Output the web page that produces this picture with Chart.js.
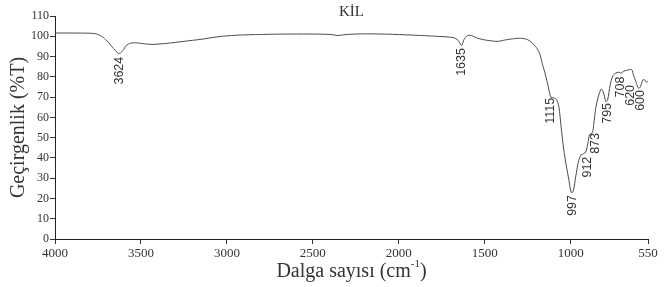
<!DOCTYPE html>
<html>
<head>
<meta charset="utf-8">
<script src="https://cdn.jsdelivr.net/npm/chart.js@4/dist/chart.umd.min.js"></script>
<style>
  html, body { margin: 0; padding: 0; background: #fff; }
  #wrap { width: 668px; height: 287px; }
</style>
</head>
<body>
<div id="wrap"><canvas id="ftirChart" width="668" height="287"></canvas></div>
<script>
// FTIR spektrumu - KİL
const wavenumbers = [4000, 3900, 3800, 3760, 3720, 3690, 3660, 3640, 3624, 3605, 3585, 3560, 3530, 3480, 3430,
  3350, 3250, 3150, 3050, 2950, 2800, 2650, 2500, 2400, 2353, 2300, 2200, 2050, 1900, 1760, 1680, 1655, 1635,
  1620, 1600, 1580, 1540, 1500, 1450, 1420, 1380, 1320, 1284, 1250, 1225, 1200, 1180, 1165, 1150, 1135, 1120,
  1115, 1095, 1080, 1068, 1055, 1040, 1025, 1010, 997, 985, 970, 955, 940, 925, 912, 900, 890, 873, 865, 855,
  840, 822, 810, 795, 785, 770, 755, 740, 720, 708, 690, 660, 645, 635, 620, 605, 595, 580, 570, 560, 550];
const transmittance = [101.6, 101.6, 101.5, 101.2, 99.5, 97, 94, 92.2, 91.5, 93, 95.5, 96.6, 96.8, 96.3, 96.0,
  96.5, 97.5, 98.5, 99.8, 100.5, 100.9, 101.1, 101.1, 100.9, 100.4, 100.9, 101.2, 101.0, 100.5, 99.9, 99.3, 98, 95.4,
  98.5, 100.4, 100.4, 99, 98.2, 97.6, 97.5, 98.2, 98.9, 99, 98.3, 96.8, 94.5, 91.5, 86.5, 82, 77, 71,
  70, 69.5, 68.5, 65, 55, 44, 36, 29, 23, 23.5, 31, 38, 41.5, 42, 43, 47, 51.5, 52.5, 57, 64,
  70, 74, 72.5, 67.7, 68.5, 76, 80.5, 81.7, 82.3, 81.8, 82.8, 83.5, 83.6, 81, 77.5, 74.3, 75, 78.5, 78.5, 77.3, 78];

// x ekseni etiketleri
const xTicks = [4000, 3500, 3000, 2500, 2000, 1500, 1000, 550];

// pik etiketleri (metin, konum: dalga sayısı, %T)
const peakText = ["3624", "1635", "1115", "997", "912", "873", "795", "708", "620", "600"];
const peakAtX = [3624, 1635, 1115, 987, 899, 857, 788, 711, 649, 591];
const peakAtY = [89.9, 94.2, 69.6, 21.7, 40.6, 52.3, 67.1, 80.1, 76.0, 73.5];

const serif = "'Liberation Serif', 'Times New Roman', serif";
const sans = "'Liberation Sans', Arial, sans-serif";

// başlık, x ekseni adı ve pik etiketleri
const textPlugin = {
  id: 'ftirText',
  afterDraw(chart) {
    const ctx = chart.ctx;
    const xs = chart.scales.x;
    const ys = chart.scales.y;
    const area = chart.chartArea;
    ctx.save();
    ctx.fillStyle = '#333';

    // başlık
    ctx.font = "15px " + serif;
    ctx.textAlign = 'center';
    ctx.textBaseline = 'middle';
    ctx.fillText("KİL", (area.left + area.right) / 2, 12);

    // x ekseni adı: Dalga sayısı (cm-1)
    ctx.font = "20px " + serif;
    const main = "Dalga sayısı (cm";
    ctx.font = "20px " + serif;
    const w1 = ctx.measureText(main).width;
    ctx.font = "11px " + serif;
    const w2 = ctx.measureText("-1").width;
    ctx.font = "20px " + serif;
    const w3 = ctx.measureText(")").width;
    let sx = (area.left + area.right) / 2 - (w1 + w2 + w3) / 2;
    const base = 277;
    ctx.textAlign = 'left';
    ctx.textBaseline = 'alphabetic';
    ctx.fillText(main, sx, base);
    ctx.font = "11px " + serif;
    ctx.fillText("-1", sx + w1, base - 10);
    ctx.font = "20px " + serif;
    ctx.fillText(")", sx + w1 + w2, base);

    // pik etiketleri
    ctx.font = "12.5px " + sans;
    ctx.textAlign = 'right';
    ctx.textBaseline = 'middle';
    peakText.forEach((t, i) => {
      const px = xs.getPixelForValue(peakAtX[i]);
      const py = ys.getPixelForValue(peakAtY[i]);
      ctx.save();
      ctx.translate(px, py);
      ctx.rotate(-Math.PI / 2);
      ctx.fillText(t, 0, 0);
      ctx.restore();
    });
    ctx.restore();
  }
};

const points = wavenumbers.map((w, i) => ({ x: w, y: transmittance[i] }));

const ctx = document.getElementById('ftirChart').getContext('2d');
const myChart = new Chart(ctx, {
  type: 'line',
  data: {
    datasets: [{
      data: points,
      borderColor: '#4a4a4a',
      borderWidth: 1,
      pointRadius: 0,
      tension: 0.25,
      fill: false
    }]
  },
  options: {
    responsive: false,
    animation: false,
    layout: { padding: { left: 0, right: 20, top: 16, bottom: 0 } },
    plugins: {
      legend: { display: false },
      tooltip: { enabled: false }
    },
    scales: {
      x: {
        type: 'linear',
        reverse: true,
        min: 550,
        max: 4000,
        afterBuildTicks: (scale) => { scale.ticks = xTicks.map(v => ({ value: v })); },
        afterFit: (scale) => { scale.height = 48; },
        ticks: {
          autoSkip: false,
          maxRotation: 0,
          padding: 2,
          color: '#333',
          font: { family: serif, size: 13 },
          callback: (v) => String(v)
        },
        grid: { drawOnChartArea: false, tickLength: 5, color: '#333' },
        border: { color: '#222', width: 1 }
      },
      y: {
        min: 0,
        max: 110,
        afterFit: (scale) => { scale.width = 55; },
        ticks: {
          stepSize: 10,
          padding: 1,
          color: '#333',
          font: { family: serif, size: 12 }
        },
        grid: { drawOnChartArea: false, tickLength: 5, color: '#333' },
        border: { color: '#222', width: 1 },
        title: {
          display: true,
          text: 'Geçirgenlik (%T)',
          color: '#333',
          font: { family: serif, size: 20 },
          padding: { top: 7, bottom: 0 }
        }
      }
    }
  },
  plugins: [textPlugin]
});
</script>
</body>
</html>
